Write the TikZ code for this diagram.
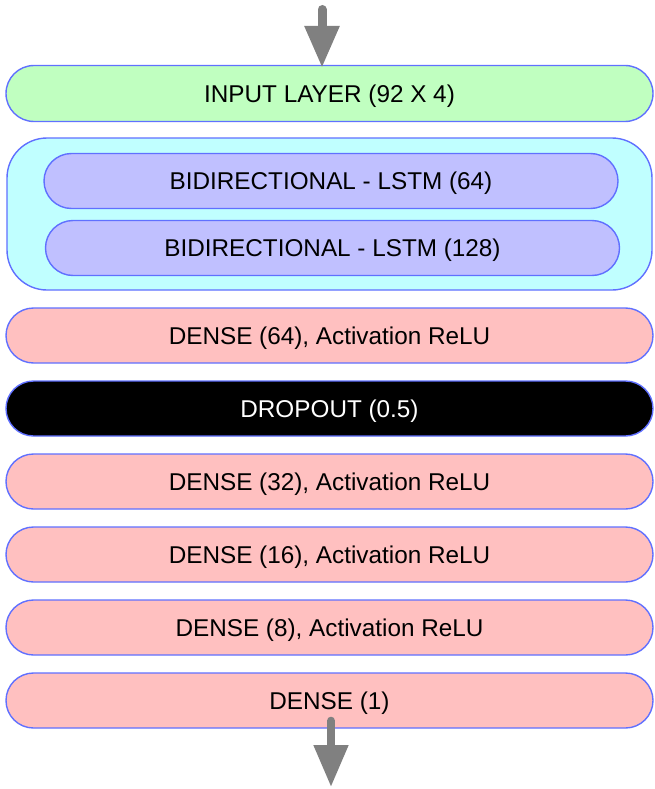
\documentclass[tikz,border=0pt]{standalone}
\usepackage{fontspec}
\setmainfont{Liberation Sans}
\usetikzlibrary{arrows.meta}
\definecolor{edgeblue}{RGB}{96,112,255}
\definecolor{ingreen}{RGB}{192,255,192}
\definecolor{wrapcyan}{RGB}{192,255,255}
\definecolor{lstmblue}{RGB}{192,192,255}
\definecolor{densepink}{RGB}{255,192,192}
\definecolor{flowgray}{RGB}{128,128,128}
\tikzset{
  layer/.style={draw=edgeblue, line width=1.4pt, rounded corners=27.5pt,
    minimum width=647pt, minimum height=55pt, inner sep=0pt,
    text height=17.4pt, text depth=0pt,
    font=\fontsize{24.3}{28}\selectfont},
  inputlayer/.style={layer, fill=ingreen, minimum height=56pt, rounded corners=28pt},
  lstmlayer/.style={layer, fill=lstmblue, minimum width=574pt},
  denselayer/.style={layer, fill=densepink},
  droplayer/.style={layer, fill=black, text=white},
  wrapper/.style={draw=edgeblue, line width=1.4pt, fill=wrapcyan, rounded corners=40pt,
    minimum width=645pt, minimum height=152pt, inner sep=0pt},
  flow/.style={draw=flowgray, line width=8pt, line cap=round,
    -{Triangle[length=42pt, width=33pt]}}
}
\begin{document}
\begin{tikzpicture}[x=1pt, y=-1pt]
  \useasboundingbox (0,0) rectangle (655,789);

  % input
  \node[inputlayer] (input) at (329.5,93.5) {INPUT LAYER (92 X 4)};

  % bidirectional LSTM block
  \node[wrapper] (bilstm) at (329.5,214) {};
  \node[lstmlayer] (lstmA) at (331,181) {BIDIRECTIONAL - LSTM (64)};
  \node[lstmlayer] (lstmB) at (332.5,248) {BIDIRECTIONAL - LSTM (128)};

  % dense stack
  \node[denselayer] (dA) at (329.5,335.5) {DENSE (64), Activation ReLU};
  \node[droplayer]  (drop) at (329.5,408.5) {DROPOUT (0.5)};
  \node[denselayer] (dB) at (329.5,481.5) {DENSE (32), Activation ReLU};
  \node[denselayer] (dC) at (329.5,554.5) {DENSE (16), Activation ReLU};
  \node[denselayer] (dD) at (329.5,627.5) {DENSE (8), Activation ReLU};
  \node[denselayer] (dE) at (329.5,700.5) {DENSE (1)};

  % data in / data out
  \coordinate (source) at (322,9.5);
  \coordinate (sink) at (331,787);
  \draw[flow, line width=9pt] (source) -- ([yshift=-3pt]input.north -| source);
  \draw[flow, line width=8pt] ([yshift=8pt]dE.south -| sink) -- (sink);
\end{tikzpicture}
\end{document}
